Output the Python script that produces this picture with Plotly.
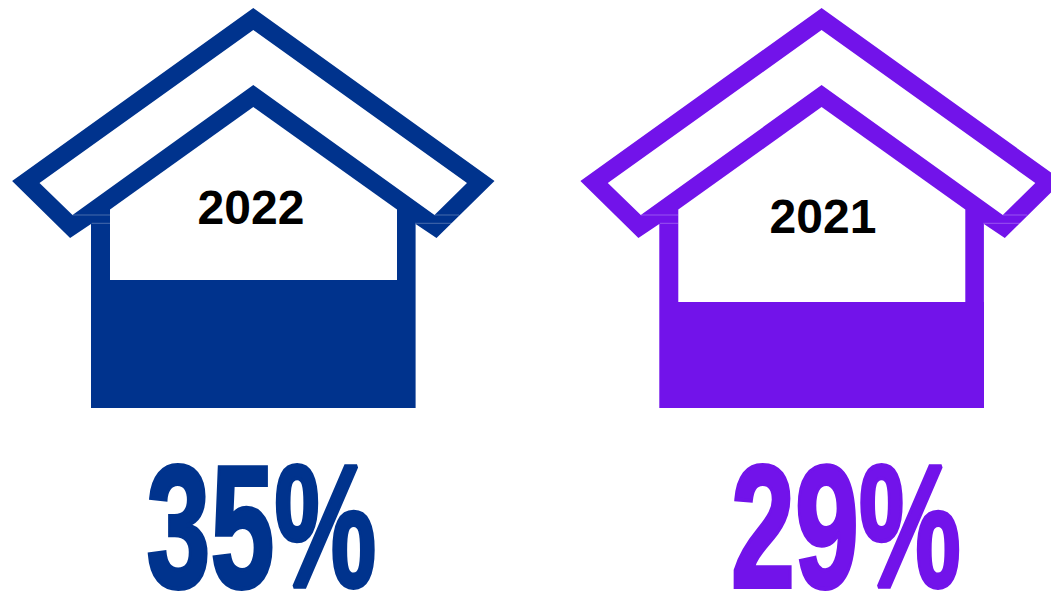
import plotly.graph_objects as go

# Share of respondents per year
years = ["2022", "2021"]
shares = [35, 29]
colors = ["#00338D", "#7213EA"]
house_centers = [253.3, 821.6]
year_label_pos = [(251, 211.5), (823, 220.5)]
share_label_x = [261.5, 846]

WIDTH, HEIGHT = 1051, 593
BASELINE_PX = 408.0       # pixel row of the 0 % level
PX_PER_POINT = 3.66       # fill height for one percentage point
HALF_BODY = 162.0
WALL_OUTER = 162.3
SHARE_LABEL_PX = 543.5
SHARE_FONT_SIZE = 174


def shifted(points, cx):
    xs = [cx + p[0] for p in points] + [cx + points[0][0]]
    ys = [p[1] for p in points] + [points[0][1]]
    return xs, ys


# House outline, offsets from the centre line, drawn in page units
silhouette = [(0, 8), (241.2, 181), (183.2, 238), (WALL_OUTER, 224), (WALL_OUTER, 408),
              (-WALL_OUTER, 408), (-WALL_OUTER, 224), (-183.2, 238), (-241.2, 181)]
roof_gap = [(0, 30), (213.7, 183), (181.2, 215), (0, 85), (-180.8, 215), (-213.8, 183)]
interior = [(0, 107), (143.7, 209.5), (143.7, 400), (-143.3, 400), (-143.3, 209.5)]

fig = go.Figure()

for cx, color in zip(house_centers, colors):
    xs, ys = shifted(silhouette, cx)
    fig.add_trace(go.Scatter(x=xs, y=ys, mode="lines", fill="toself", fillcolor=color,
                             line=dict(width=0), hoverinfo="skip", showlegend=False))
    for shape in (roof_gap, interior):
        xs, ys = shifted(shape, cx)
        fig.add_trace(go.Scatter(x=xs, y=ys, mode="lines", fill="toself", fillcolor="white",
                                 line=dict(width=0), hoverinfo="skip", showlegend=False))
    # Hairline seams where the roof and wall pieces meet
    seams_x = [cx - 180.8, cx - 143.3, None, cx - 161.7, cx - 143.3, None,
               cx + 181.2, cx + 205.7, None, cx + 161.7, cx + 198.7]
    seams_y = [215, 215, None, 223.3, 223.3, None,
               215, 215, None, 223.3, 223.3]
    fig.add_trace(go.Scatter(x=seams_x, y=seams_y, mode="lines",
                             line=dict(width=1, color="rgba(255,255,255,0.28)"),
                             hoverinfo="skip", showlegend=False))

# Fill level of each house, on the percentage axis
for year, share, cx, color in zip(years, shares, house_centers, colors):
    fig.add_trace(go.Bar(x=[cx], y=[share], width=[2 * HALF_BODY], base=0, yaxis="y2",
                         marker=dict(color=color, line=dict(width=0)),
                         name=year, showlegend=False))

# Year inside each house
fig.add_trace(go.Scatter(x=[p[0] for p in year_label_pos], y=[p[1] for p in year_label_pos],
                         text=years, mode="text", textposition="middle center",
                         textfont=dict(family="Liberation Sans", size=48, color="black", weight="bold"),
                         hoverinfo="skip", showlegend=False))

# Large share figures below the houses
fig.add_trace(go.Scatter(x=share_label_x, y=[SHARE_LABEL_PX, SHARE_LABEL_PX],
                         text=[f"{s}%" for s in shares],
                         mode="text", textposition="middle center",
                         textfont=dict(family="Liberation Sans", size=SHARE_FONT_SIZE,
                                       color=colors, weight="bold"),
                         hoverinfo="skip", showlegend=False))

fig.update_layout(
    width=WIDTH, height=HEIGHT, margin=dict(l=0, r=0, t=0, b=0),
    paper_bgcolor="white", plot_bgcolor="white",
    xaxis=dict(range=[0, WIDTH], visible=False, fixedrange=True),
    yaxis=dict(range=[HEIGHT, 0], visible=False, fixedrange=True),
    yaxis2=dict(overlaying="y", visible=False, fixedrange=True,
                range=[(BASELINE_PX - HEIGHT) / PX_PER_POINT, BASELINE_PX / PX_PER_POINT]),
    bargap=0,
    barmode="overlay",
)

# No condensed heavy face is available, so the big figures are narrowed and thickened in place
condense_figures = """
document.querySelectorAll('.textpoint text').forEach(function (t) {
  if (parseFloat(t.style.fontSize) > 100) {
    t.style.transformBox = 'fill-box';
    t.style.transformOrigin = 'center';
    t.style.transform = 'scaleX(0.66)';
    t.style.stroke = t.style.fill;
    t.style.strokeWidth = '4px';
    t.style.strokeLinejoin = 'miter';
  }
});
"""

fig.write_html("out.html", config={"displayModeBar": False}, post_script=condense_figures)
